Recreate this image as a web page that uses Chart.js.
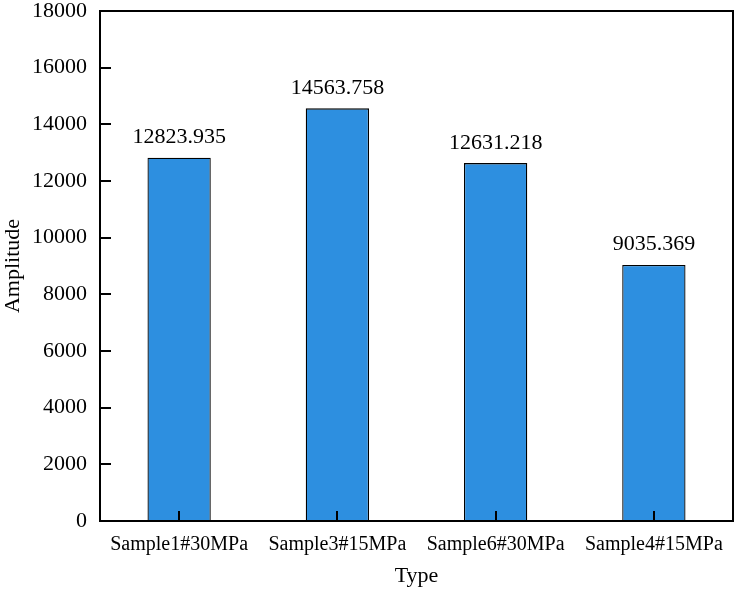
<!DOCTYPE html>
<html>
<head>
<meta charset="utf-8">
<script src="https://cdn.jsdelivr.net/npm/chart.js@4/dist/chart.umd.min.js"></script>
<style>
  html, body { margin: 0; padding: 0; background: #ffffff; }
  #wrap { width: 738px; height: 593px; position: relative; }
</style>
</head>
<body>
<div id="wrap"><canvas id="c" width="738" height="593"></canvas></div>
<script>
const categories = ['Sample1#30MPa', 'Sample3#15MPa', 'Sample6#30MPa', 'Sample4#15MPa'];
const amplitudes = [12823.935, 14563.758, 12631.218, 9035.369];
const valueLabels = ['12823.935', '14563.758', '12631.218', '9035.369'];
const yMin = 0;
const yMax = 18000;
const yStep = 2000;
const xTitle = 'Type';
const yTitle = 'Amplitude';

const FONT = '"Liberation Serif", "Times New Roman", serif';

const framePlugin = {
  id: 'frameAndTicks',
  afterDatasetsDraw(chart) {
    const ctx = chart.ctx;
    const a = chart.chartArea;
    const xs = chart.scales.x;
    const ys = chart.scales.y;
    ctx.save();
    // value labels
    ctx.fillStyle = '#000';
    ctx.font = '22px ' + FONT;
    ctx.textAlign = 'center';
    ctx.textBaseline = 'alphabetic';
    const meta = chart.getDatasetMeta(0);
    meta.data.forEach((bar, i) => {
      ctx.fillText(valueLabels[i], bar.x, bar.y - 14.5);
    });
    // inner ticks
    ctx.strokeStyle = '#000';
    ctx.lineWidth = 2;
    ctx.beginPath();
    ys.ticks.forEach((t, i) => {
      const y = Math.round(ys.getPixelForTick(i));
      ctx.moveTo(a.left, y);
      ctx.lineTo(a.left + 11, y);
    });
    xs.ticks.forEach((t, i) => {
      const x = Math.round(xs.getPixelForTick(i));
      ctx.moveTo(x, a.bottom);
      ctx.lineTo(x, a.bottom - 10);
    });
    ctx.stroke();
    // frame
    ctx.strokeRect(a.left, a.top, a.right - a.left, a.bottom - a.top);
    ctx.restore();
  }
};

new Chart(document.getElementById('c'), {
  type: 'bar',
  data: {
    labels: categories,
    datasets: [{
      data: amplitudes,
      backgroundColor: 'rgb(45,143,224)',
      borderColor: '#000000',
      borderWidth: 1.3,
      barPercentage: 0.4,
      categoryPercentage: 1.0
    }]
  },
  options: {
    responsive: false,
    animation: false,
    devicePixelRatio: 1,
    layout: { padding: { left: 0, right: 5, top: 11, bottom: 0 } },
    plugins: {
      legend: { display: false },
      tooltip: { enabled: false }
    },
    scales: {
      x: {
        grid: { display: false, drawTicks: false },
        border: { display: false },
        ticks: {
          color: '#000',
          font: { family: FONT, size: 20 },
          padding: 12,
          maxRotation: 0,
          autoSkip: false
        },
        title: {
          display: true,
          text: xTitle,
          color: '#000',
          font: { family: FONT, size: 22 },
          padding: { top: 0, bottom: 4 }
        },
        afterFit(scale) {
          scale.height = 72;
          scale.paddingLeft = 0;
          scale.paddingRight = 0;
        }
      },
      y: {
        min: yMin,
        max: yMax,
        grid: { display: false, drawTicks: false },
        border: { display: false },
        ticks: {
          stepSize: yStep,
          color: '#000',
          font: { family: FONT, size: 22 },
          padding: 13,
          callback: (v) => String(v)
        },
        title: {
          display: true,
          text: yTitle,
          color: '#000',
          font: { family: FONT, size: 22 },
          padding: { top: 0, bottom: 0 }
        },
        afterFit(scale) {
          scale.width = 100;
          scale.paddingTop = 0;
          scale.paddingBottom = 0;
        }
      }
    }
  },
  plugins: [framePlugin]
});
</script>
</body>
</html>
